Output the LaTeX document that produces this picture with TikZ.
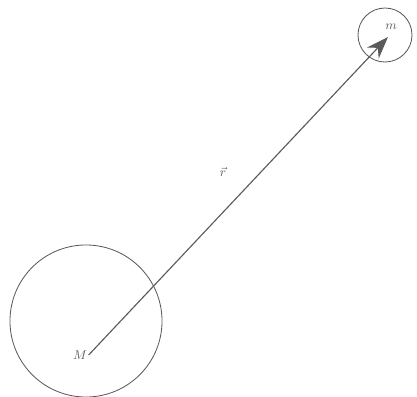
\documentclass[tikz,border=0pt]{standalone}
\usepackage{tikz}
\usetikzlibrary{arrows.meta, positioning}
\definecolor{mgGray}{HTML}{5A5A5A}

\begin{document}
\begin{tikzpicture}[x=0.025cm, y=-0.025cm, font=\small,
  mass/.style={circle, draw=mgGray, line width=0.6pt, inner sep=0pt},
  vecarrow/.style={draw=mgGray, line width=0.8pt,
    -{Stealth[length=5.5mm, width=4mm, fill=mgGray]}}]
  \useasboundingbox (0,0) rectangle (417,397);
  % the two bodies
  \node[mass, minimum size=3.8cm] (big) at (86,321) {};
  \node[mass, minimum size=1.35cm] (small) at (385,35) {};
  % labels
  \node[text=mgGray, inner sep=1pt] (M) at (80,355) {$M$};
  \node[text=mgGray, inner sep=1pt] (m) at (391,27) {$m$};
  \coordinate (tip) at (388,37);
  % position vector
  \draw[vecarrow] (M.east) -- (tip);
  \node[text=mgGray] (r) at (223,172) {$\vec{r}$};
\end{tikzpicture}
\end{document}
